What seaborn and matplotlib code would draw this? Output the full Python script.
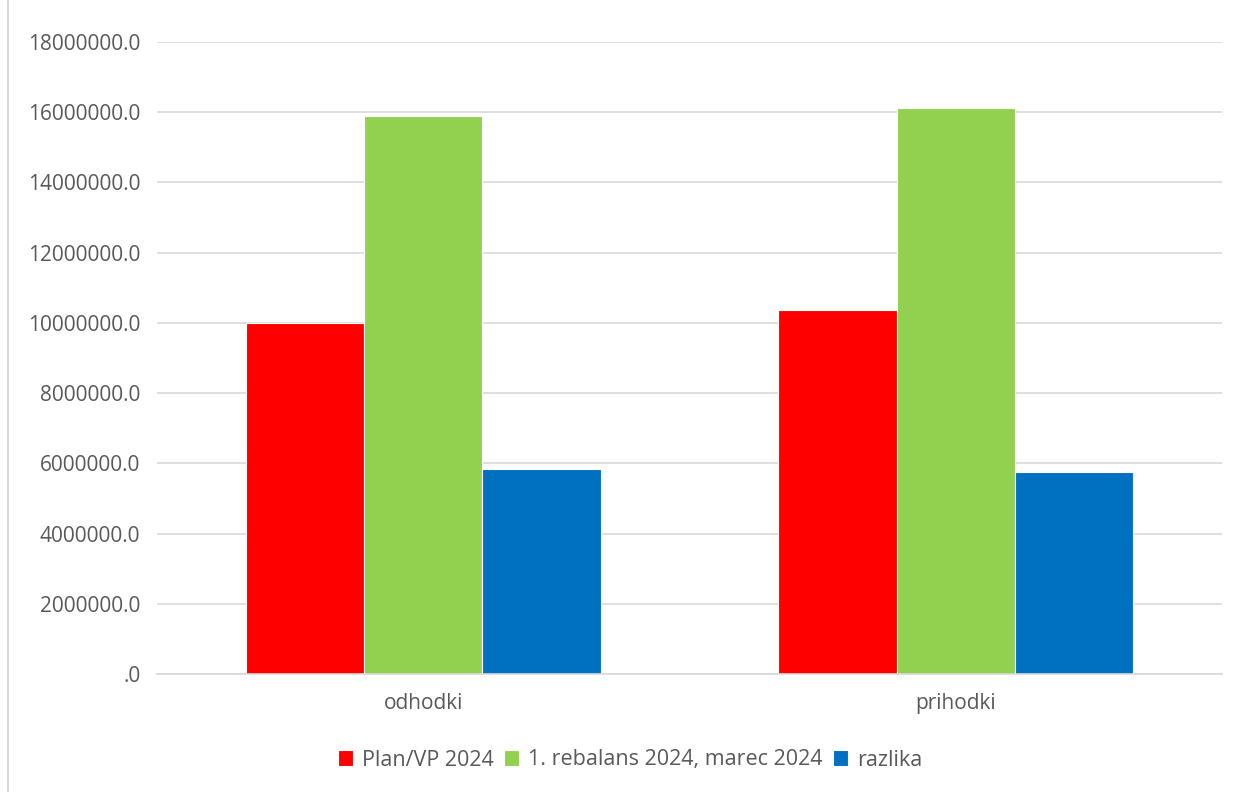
import pandas as pd
import seaborn as sns
import matplotlib.pyplot as plt
from matplotlib.ticker import FuncFormatter, MultipleLocator
from matplotlib.patches import Rectangle

# podatki
categories = ['odhodki', 'prihodki']
series = ['Plan/VP 2024', '1. rebalans 2024, marec 2024', 'razlika']
plan = [9990000, 10360000]
rebalans = [15890000, 16130000]
razlika = [5850000, 5740000]
colors = ['#ff0000', '#92d050', '#0070c0']

df = pd.DataFrame({
    'kategorija': categories * 3,
    'serija': [series[0]] * 2 + [series[1]] * 2 + [series[2]] * 2,
    'vrednost': plan + rebalans + razlika,
})

sns.set_style('white')
plt.rcParams['font.family'] = ['Open Sans', 'DejaVu Sans']
text_color = '#595959'

fig = plt.figure(figsize=(12.39, 7.92), dpi=100)
ax = fig.add_axes([157 / 1239, 1 - 674 / 792, (1222 - 157) / 1239, (674 - 42) / 792])

sns.barplot(data=df, x='kategorija', y='vrednost', hue='serija', hue_order=series,
            palette=colors, width=0.667, linewidth=0.8, edgecolor='white',
            saturation=1, ax=ax)

ax.set_ylim(0, 18000000)
ax.yaxis.set_major_locator(MultipleLocator(2000000))
ax.yaxis.set_major_formatter(FuncFormatter(lambda v, p: '.0' if v == 0 else f'{v:.1f}'))
ax.grid(axis='y', color='#d9d9d9', linewidth=1.2)
ax.set_axisbelow(True)
for s in ['top', 'right', 'left']:
    ax.spines[s].set_visible(False)
ax.spines['bottom'].set_color('#d9d9d9')
ax.spines['bottom'].set_linewidth(1.2)
ax.tick_params(axis='both', length=0, labelsize=15, colors=text_color, pad=12)
ax.tick_params(axis='x', pad=14)
ax.set_xlabel('')
ax.set_ylabel('')

handles, labels = ax.get_legend_handles_labels()
ax.get_legend().remove()
fig.legend(handles, labels, loc='center', bbox_to_anchor=(630 / 1239, 1 - 760 / 792), ncol=3,
           frameon=False, fontsize=15.5, labelcolor=text_color, handlelength=0.7,
           handleheight=0.7, handletextpad=0.4, columnspacing=0.5)

# okvir grafa
fig.patches.append(Rectangle((8 / 1239, -0.01), 1.02, 1.02, transform=fig.transFigure,
                             fill=False, edgecolor='#d9d9d9', linewidth=1.5))

fig.savefig('out.png', dpi=100)
